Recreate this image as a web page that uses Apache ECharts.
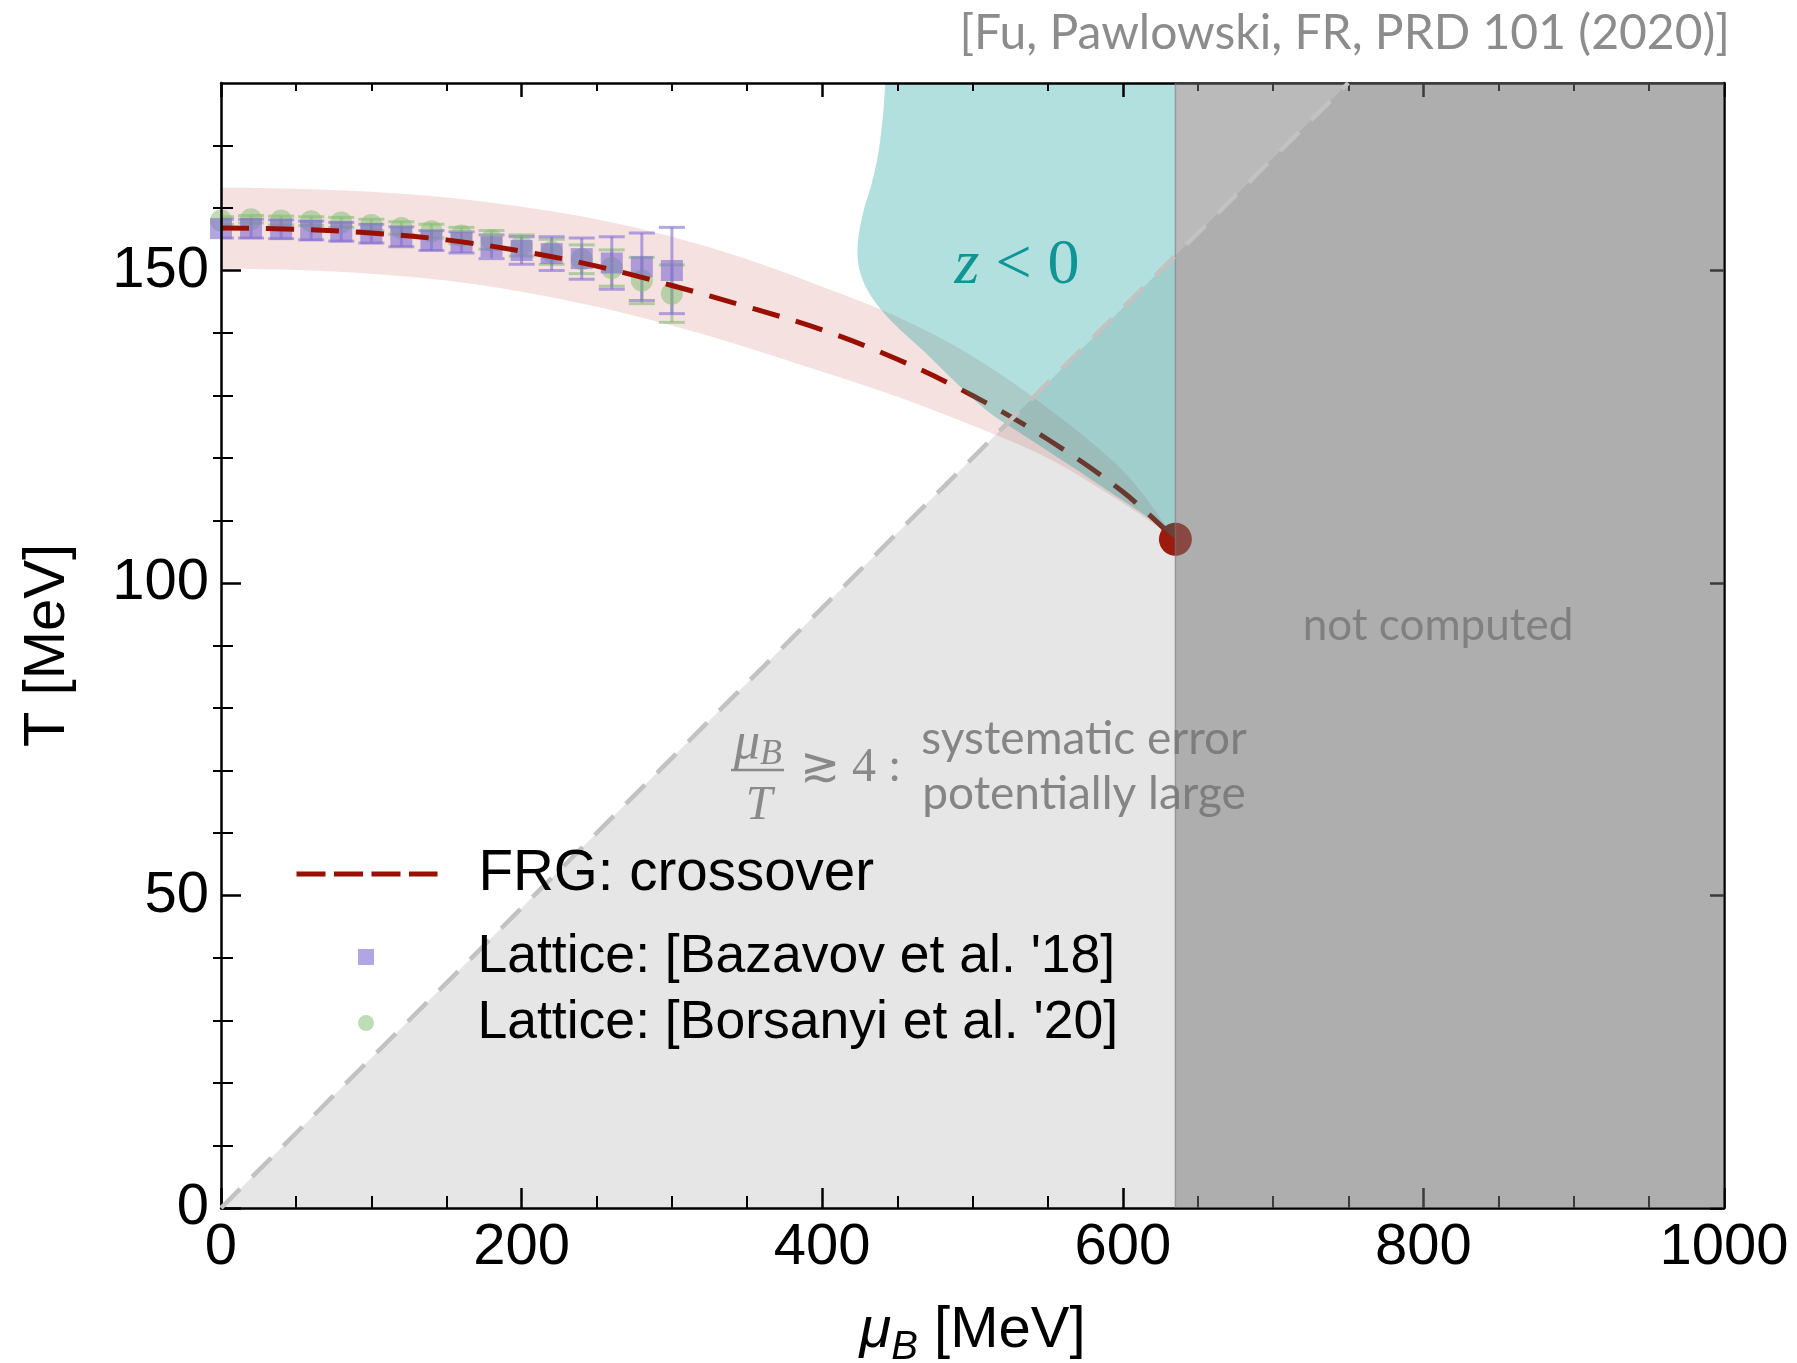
<!DOCTYPE html>
<html>
<head>
<meta charset="utf-8">
<script src="https://cdn.jsdelivr.net/npm/echarts@6.0.0/dist/echarts.min.js"></script>
<style>
  html, body { margin: 0; padding: 0; background: #ffffff; }
  #chart { width: 1797px; height: 1363px; }
</style>
</head>
<body>
<div id="chart"></div>
<script>
// ---- axis ranges and ticks (MeV) ----
const muRange = [0, 1000];
const tRange = [0, 180];
const muMajorStep = 200;
const muMinorSplit = 4;
const tMajorTicks = [0, 50, 100, 150];
const tMinorTicks = [10, 20, 30, 40, 60, 70, 80, 90, 110, 120, 130, 140, 160, 170];

// ---- FRG crossover line, mu_B [MeV] -> T [MeV] ----
const frgMu = [0, 50, 100, 150, 200, 250, 300, 350, 400, 450, 500, 550, 600, 635];
const frgT  = [156.8, 156.6, 156.0, 154.9, 153.1, 150.7, 147.6, 144.2, 140.5, 135.8, 130.0, 123.0, 114.6, 107.0];

// ---- FRG crossover uncertainty band ----
const bandUpper = [163.3, 163.1, 162.6, 161.7, 160.2, 158.2, 155.4, 151.8, 147.4, 142.6, 136.3, 128.0, 118.0, 107.0];
const bandLower = [150.3, 150.1, 149.5, 148.4, 146.6, 144.2, 141.2, 137.7, 133.8, 129.8, 125.2, 120.0, 112.8, 107.0];

// ---- critical end point ----
const cepMu = 635;
const cepT = 107;

// ---- lattice results ----
const latticeMu   = [0, 20, 40, 60, 80, 100, 120, 140, 160, 180, 200, 220, 240, 260, 280, 300];
const bazavovT    = [156.7, 156.7, 156.6, 156.4, 156.2, 155.9, 155.4, 154.8, 154.5, 153.8, 153.2, 152.7, 151.9, 151.2, 150.6, 150.0];
const bazavovErr  = [1.5, 1.5, 1.5, 1.5, 1.5, 1.5, 1.6, 1.6, 1.7, 1.9, 2.2, 2.7, 3.3, 4.2, 5.4, 6.9];
const borsanyiT   = [158.0, 158.2, 158.0, 157.9, 157.7, 157.3, 156.8, 156.3, 155.6, 154.9, 154.0, 153.0, 151.8, 150.4, 148.4, 146.3];
const borsanyiErr = [0.6, 0.6, 0.7, 0.7, 0.8, 0.9, 1.0, 1.1, 1.3, 1.5, 1.7, 2.0, 2.3, 2.9, 3.7, 4.6];

// ---- z < 0 region: left / lower boundary, from the top edge down to the CEP ----
const zNegMu = [442, 440.5, 437.5, 433, 428, 424.5, 423.5, 425.5, 431, 440, 452, 468, 488, 510, 535, 565, 595, 618, 635];
const zNegT  = [180, 175, 169, 164, 160, 156, 152.5, 149.5, 146.5, 143.5, 140.5, 137, 132.3, 127.5, 123.5, 118.8, 114, 110.3, 107];

// ---- mu_B / T reliability line ----
const reliabilityMu = [0, 750];
const reliabilityT  = [0, 180];

// ---- region not computed ----
const notComputedFrom = 635;

// ---------------------------------------------------------------
const FONT = 'Liberation Sans';
const SERIF = 'Liberation Serif';

// Catmull-Rom spline through pixel points, as SVG path commands
function splinePath(pts, start) {
  let d = (start ? 'M' : 'L') + pts[0][0] + ',' + pts[0][1];
  for (let i = 0; i < pts.length - 1; i++) {
    const p0 = pts[Math.max(i - 1, 0)];
    const p1 = pts[i];
    const p2 = pts[i + 1];
    const p3 = pts[Math.min(i + 2, pts.length - 1)];
    const c1 = [p1[0] + (p2[0] - p0[0]) / 6, p1[1] + (p2[1] - p0[1]) / 6];
    const c2 = [p2[0] - (p3[0] - p1[0]) / 6, p2[1] - (p3[1] - p1[1]) / 6];
    d += 'C' + c1[0] + ',' + c1[1] + ' ' + c2[0] + ',' + c2[1] + ' ' + p2[0] + ',' + p2[1];
  }
  return d;
}

function errorBars(color) {
  return function (params, api) {
    const x = api.value(0), y = api.value(1), e = api.value(2);
    const top = api.coord([x, y + e]);
    const bot = api.coord([x, y - e]);
    const hw = 13;
    const st = { stroke: color, lineWidth: 3 };
    return {
      type: 'group',
      children: [
        { type: 'line', shape: { x1: top[0], y1: top[1], x2: bot[0], y2: bot[1] }, style: st },
        { type: 'line', shape: { x1: top[0] - hw, y1: top[1], x2: top[0] + hw, y2: top[1] }, style: st },
        { type: 'line', shape: { x1: bot[0] - hw, y1: bot[1], x2: bot[0] + hw, y2: bot[1] }, style: st }
      ]
    };
  };
}

const purple = 'rgba(130,110,210,0.62)';
const purpleBar = 'rgba(130,110,210,0.6)';
const green = 'rgba(130,190,115,0.52)';
const greenBar = 'rgba(130,190,115,0.6)';
const frgColor = '#990f02';

const chart = echarts.init(document.getElementById('chart'), null, { renderer: 'canvas' });

const frameLine = { show: true, onZero: false, lineStyle: { color: '#000', width: 2.5 } };
const tickStyle = { color: '#000', width: 2.5 };
const minorTickStyle = { color: '#000', width: 2 };

function legendText(size) {
  return { fontFamily: FONT, fontSize: size, color: '#000', lineHeight: 60, padding: [0, 0, 0, 36] };
}

const option = {
  animation: false,
  backgroundColor: '#ffffff',
  grid: { left: 221, top: 83, right: 73, bottom: 155, containLabel: false, outerBoundsMode: 'none' },
  xAxis: [
    {
      type: 'value', position: 'bottom', min: muRange[0], max: muRange[1], interval: muMajorStep, z: 6,
      axisLine: frameLine,
      axisTick: { show: true, inside: true, length: 20, lineStyle: tickStyle },
      minorTick: { show: true, splitNumber: muMinorSplit, length: 12, lineStyle: minorTickStyle },
      splitLine: { show: false },
      axisLabel: { margin: 11, fontFamily: FONT, fontSize: 58, color: '#000', formatter: (v) => String(v) },
      name: '{m|μ}{s|B}{t| [MeV]}',
      nameLocation: 'middle',
      nameGap: 86,
      nameTextStyle: {
        fontFamily: FONT, fontSize: 58, color: '#000',
        rich: {
          m: { fontFamily: FONT, fontSize: 58, fontStyle: 'italic', color: '#000' },
          s: { fontFamily: FONT, fontSize: 40, fontStyle: 'italic', color: '#000', padding: [34, 0, 0, 0] },
          t: { fontFamily: FONT, fontSize: 58, color: '#000' }
        }
      }
    },
    {
      type: 'value', position: 'top', min: muRange[0], max: muRange[1], interval: muMajorStep, z: 6,
      axisLine: frameLine,
      axisTick: { show: true, inside: true, length: 14, lineStyle: tickStyle },
      minorTick: { show: true, splitNumber: muMinorSplit, length: 8, lineStyle: minorTickStyle },
      splitLine: { show: false },
      axisLabel: { show: false }
    }
  ],
  yAxis: [
    {
      type: 'value', position: 'left', min: tRange[0], max: tRange[1], interval: 50, z: 6,
      axisLine: frameLine,
      axisTick: { show: true, inside: true, length: 20, lineStyle: tickStyle, customValues: tMajorTicks },
      splitLine: { show: false },
      axisLabel: { margin: 12, fontFamily: FONT, fontSize: 58, color: '#000', customValues: tMajorTicks },
      name: 'T [MeV]',
      nameLocation: 'middle',
      nameGap: 144,
      nameTextStyle: { fontFamily: FONT, fontSize: 58, color: '#000' }
    },
    {
      type: 'value', position: 'left', min: tRange[0], max: tRange[1], interval: 50, z: 6,
      axisLine: { show: false },
      axisTick: { show: true, inside: true, length: 12, lineStyle: minorTickStyle, customValues: tMinorTicks },
      splitLine: { show: false },
      axisLabel: { show: false }
    },
    {
      type: 'value', position: 'right', min: tRange[0], max: tRange[1], interval: 50, z: 6,
      axisLine: frameLine,
      axisTick: { show: true, inside: true, length: 14, lineStyle: tickStyle, customValues: tMajorTicks },
      splitLine: { show: false },
      axisLabel: { show: false }
    },
    {
      type: 'value', position: 'right', min: tRange[0], max: tRange[1], interval: 50, z: 6,
      axisLine: { show: false },
      axisTick: { show: true, inside: true, length: 8, lineStyle: minorTickStyle, customValues: tMinorTicks },
      splitLine: { show: false },
      axisLabel: { show: false }
    }
  ],
  legend: [
    {
      data: [{ name: 'FRG: crossover' }],
      left: 294, top: 844, orient: 'vertical', padding: 0,
      itemWidth: 141, itemHeight: 16, selectedMode: false, z: 9,
      lineStyle: { type: [29, 8.5], width: 5 },
      itemStyle: { opacity: 0 },
      textStyle: legendText(56.5)
    },
    {
      data: [
        { name: "Lattice: [Bazavov et al. '18]", icon: 'path://M0,0H10V10H0Z' },
        { name: "Lattice: [Borsanyi et al. '20]", icon: 'circle' }
      ],
      left: 358, top: 927, orient: 'vertical', padding: 0, itemGap: 6,
      itemWidth: 141, itemHeight: 16, selectedMode: false, z: 9,
      textStyle: legendText(53.5)
    }
  ],
  series: [
    // systematic-error triangle below mu_B/T line
    {
      type: 'custom', silent: true, z: 1,
      data: [[0, 0]],
      renderItem: function (params, api) {
        const pts = [
          api.coord([reliabilityMu[0], reliabilityT[0]]),
          api.coord([reliabilityMu[1], reliabilityT[1]]),
          api.coord([muRange[1], tRange[1]]),
          api.coord([muRange[1], tRange[0]])
        ];
        return { type: 'polygon', shape: { points: pts }, style: { fill: '#e6e6e6' } };
      }
    },
    // crossover uncertainty band
    {
      type: 'custom', silent: true, z: 2,
      data: [[0, 0]],
      renderItem: function (params, api) {
        const up = frgMu.map((m, i) => api.coord([m, bandUpper[i]]));
        const lo = frgMu.map((m, i) => api.coord([m, bandLower[i]])).reverse();
        const d = splinePath(up, true) + splinePath(lo, false) + 'Z';
        return { type: 'path', shape: { pathData: d }, style: { fill: 'rgba(190,70,60,0.16)' } };
      }
    },
    // Borsanyi et al. error bars + points
    {
      type: 'custom', silent: true, z: 3, clip: true,
      data: latticeMu.map((m, i) => [m, borsanyiT[i], borsanyiErr[i]]),
      encode: { x: 0, y: 1 },
      renderItem: errorBars(greenBar)
    },
    {
      name: "Lattice: [Borsanyi et al. '20]",
      type: 'scatter', z: 3, clip: true, silent: true,
      symbol: 'circle', symbolSize: 22,
      itemStyle: { color: green, opacity: 1 },
      data: latticeMu.map((m, i) => [m, borsanyiT[i]])
    },
    // Bazavov et al. error bars + points
    {
      type: 'custom', silent: true, z: 3, clip: true,
      data: latticeMu.map((m, i) => [m, bazavovT[i], bazavovErr[i]]),
      encode: { x: 0, y: 1 },
      renderItem: errorBars(purpleBar)
    },
    {
      name: "Lattice: [Bazavov et al. '18]",
      type: 'scatter', z: 3, clip: true, silent: true,
      symbol: 'rect', symbolSize: [22, 21],
      itemStyle: { color: purple, opacity: 1 },
      data: latticeMu.map((m, i) => [m, bazavovT[i]])
    },
    // FRG crossover line
    {
      name: 'FRG: crossover',
      type: 'line', z: 4, silent: true,
      smooth: 0.35, symbol: 'none', showSymbol: false,
      lineStyle: { color: frgColor, width: 5, type: [28, 17], cap: 'butt' },
      itemStyle: { color: frgColor },
      data: frgMu.map((m, i) => [m, frgT[i]])
    },
    // critical end point
    {
      type: 'scatter', z: 4, silent: true,
      symbol: 'circle', symbolSize: 33,
      itemStyle: { color: '#9c1a0e', opacity: 1 },
      data: [[cepMu, cepT]]
    },
    // z < 0 region
    {
      type: 'custom', silent: true, z: 5,
      data: [[0, 0]],
      renderItem: function (params, api) {
        const pts = zNegMu.map((m, i) => api.coord([m, zNegT[i]]));
        const corner = api.coord([notComputedFrom, tRange[1]]);
        const d = splinePath(pts, true) + 'L' + corner[0] + ',' + corner[1] + 'Z';
        return { type: 'path', shape: { pathData: d }, style: { fill: 'rgba(0,153,150,0.3)' } };
      }
    },
    // region not computed
    {
      type: 'custom', silent: true, z: 7,
      data: [[0, 0]],
      renderItem: function (params, api) {
        const a = api.coord([notComputedFrom, tRange[0]]);
        const b = api.coord([notComputedFrom, tRange[1]]);
        const c = api.coord([muRange[1], tRange[1]]);
        const e = api.coord([muRange[1], tRange[0]]);
        return {
          type: 'group',
          children: [
            { type: 'polygon', shape: { points: [a, b, c, e] }, style: { fill: 'rgba(117,117,117,0.5)' } },
            { type: 'line', shape: { x1: a[0], y1: a[1], x2: b[0], y2: b[1] }, style: { stroke: 'rgba(120,120,120,0.6)', lineWidth: 1.5 } }
          ]
        };
      }
    },
    // mu_B / T line
    {
      type: 'line', z: 8, silent: true, symbol: 'none',
      lineStyle: { color: '#c2c2c2', width: 4.5, type: [27, 17], cap: 'butt' },
      data: reliabilityMu.map((m, i) => [m, reliabilityT[i]])
    }
  ],
  graphic: [
    {
      type: 'text', x: 1730, y: 34, z: 9,
      style: { text: '[Fu, Pawlowski, FR, PRD 101 (2020)]', font: '48px Lato', fill: '#8c8c8c', align: 'right', verticalAlign: 'middle' }
    },
    {
      type: 'text', x: 1017, y: 266, z: 9,
      style: {
        text: '{z|z}{r| < 0}', align: 'center', verticalAlign: 'middle',
        rich: {
          z: { font: 'italic 64px "' + SERIF + '"', fill: '#0f9595' },
          r: { font: '64px "' + SERIF + '"', fill: '#0f9595' }
        }
      }
    },
    {
      type: 'text', x: 1438, y: 626, z: 9,
      style: { text: 'not computed', font: '44px Lato', fill: '#808080', align: 'center', verticalAlign: 'middle' }
    },
    {
      type: 'text', x: 1084, y: 739, z: 6,
      style: { text: 'systematic error', font: '46px Lato', fill: '#858585', align: 'center', verticalAlign: 'middle' }
    },
    {
      type: 'text', x: 1084, y: 794, z: 6,
      style: { text: 'potentially large', font: '46px Lato', fill: '#858585', align: 'center', verticalAlign: 'middle' }
    },
    // mu_B / T fraction
    {
      type: 'text', x: 758, y: 744, z: 6,
      style: {
        text: '{m|μ}{s|B}', align: 'center', verticalAlign: 'middle',
        rich: {
          m: { font: 'italic 52px "' + SERIF + '"', fill: '#898989' },
          s: { font: 'italic 36px "' + SERIF + '"', fill: '#898989', padding: [22, 0, 0, 0] }
        }
      }
    },
    {
      type: 'line', z: 6,
      shape: { x1: 731, y1: 770, x2: 784, y2: 770 },
      style: { stroke: '#898989', lineWidth: 2.5 }
    },
    {
      type: 'text', x: 759, y: 806, z: 6,
      style: { text: 'T', font: 'italic 48px "' + SERIF + '"', fill: '#898989', align: 'center', verticalAlign: 'middle' }
    },
    {
      type: 'text', x: 800, y: 768, z: 6,
      style: { text: '≳ 4 :', font: '48px "' + SERIF + '"', fill: '#898989', align: 'left', verticalAlign: 'middle' }
    }
  ]
};

chart.setOption(option);
</script>
</body>
</html>
